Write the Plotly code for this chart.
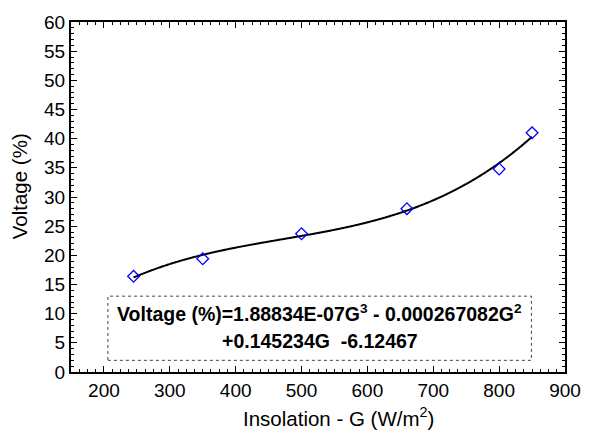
import numpy as np
import plotly.graph_objects as go

# Data
insolation = [245, 350, 500, 660, 800, 850]
voltage = [16.4, 19.4, 23.7, 28.0, 34.8, 41.0]
# Fit coefficients (stated on chart): a3, a2, a1, a0
coef = [1.88834e-07, -0.000267082, 0.145234, -6.12467]
x_ticks = [200, 300, 400, 500, 600, 700, 800, 900]
y_ticks = list(range(0, 61, 5))

G = np.linspace(min(insolation), max(insolation), 300)
fit = np.polyval(coef, G)

FONT = "Arial, Liberation Sans, sans-serif"

fig = go.Figure()
fig.add_trace(go.Scatter(x=G, y=fit, mode="lines",
                         line=dict(color="black", width=2, shape="spline"), showlegend=False))
fig.add_trace(go.Scatter(x=insolation, y=voltage, mode="markers",
                         marker=dict(symbol="diamond-open", size=9, color="#0000FF",
                                     line=dict(color="#0000FF", width=1.3)),
                         showlegend=False))

axis_common = dict(
    showline=True, linecolor="black", linewidth=2, mirror="ticks",
    ticks="inside", ticklen=6, tickwidth=1.3, tickcolor="black",
    showgrid=False, zeroline=False,
    tickfont=dict(family=FONT, size=19, color="black"),
)
fig.update_xaxes(range=[150, 900], tickvals=x_ticks,
                 minor=dict(dtick=12.5, tick0=150, ticks="inside", ticklen=3, tickcolor="black", tickwidth=1),
                 **axis_common)
fig.update_yaxes(range=[0, 60], tickvals=y_ticks,
                 minor=dict(dtick=1, ticks="inside", ticklen=3, tickcolor="black", tickwidth=1),
                 **axis_common)

# Equation box
fig.add_shape(type="rect", xref="x", yref="y", x0=206, x1=849, y0=2.0, y1=13.0,
              line=dict(color="#444444", width=1, dash="dot"))

fig.add_annotation(xref="paper", yref="paper", x=(326 - 71.25) / 506.25, y=(372 - 312) / 356,
                   text="<b>Voltage (%)=1.88834E-07G<sup>3</sup> - 0.000267082G<sup>2</sup></b>",
                   showarrow=False, xanchor="center", yanchor="middle",
                   font=dict(family=FONT, size=19.5, color="black"))
fig.add_annotation(xref="paper", yref="paper", x=(326 - 71.25) / 506.25, y=(372 - 340) / 356,
                   text="<b>+0.145234G  -6.12467</b>",
                   showarrow=False, xanchor="center", yanchor="middle",
                   font=dict(family=FONT, size=19.5, color="black"))

# Axis titles
fig.add_annotation(xref="paper", yref="paper", x=(345 - 71.25) / 506.25, y=(372 - 418) / 356,
                   text="Insolation - G (W/m<sup>2</sup>)", showarrow=False,
                   xanchor="center", yanchor="middle",
                   font=dict(family=FONT, size=20.5, color="black"))
fig.add_annotation(xref="paper", yref="paper", x=(18 - 71.25) / 506.25, y=(372 - 183) / 356,
                   text="Voltage (%)", showarrow=False, textangle=-90,
                   xanchor="center", yanchor="middle",
                   font=dict(family=FONT, size=20.5, color="black"))

fig.update_layout(
    width=593, height=435,
    margin=dict(l=71.25, r=593 - 577.5, t=16, b=63),
    paper_bgcolor="white", plot_bgcolor="white",
    font=dict(family=FONT, color="black"),
)

fig.write_html("out.html")
